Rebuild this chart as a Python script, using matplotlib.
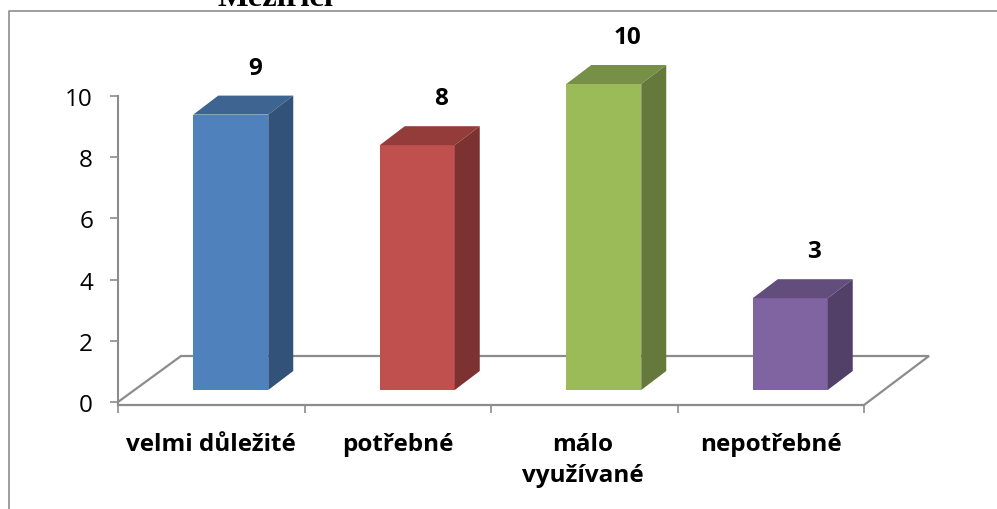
import matplotlib
matplotlib.use("Agg")
import matplotlib.pyplot as plt
from matplotlib.patches import Polygon

categories = ["velmi důležité", "potřebné", "málo\nvyužívané", "nepotřebné"]
values = [9, 8, 10, 3]
y_ticks = [0, 2, 4, 6, 8, 10]

front_colors = ["#4f81bd", "#c0504d", "#9bbb59", "#8064a2"]
top_colors = ["#3e6491", "#943c3a", "#779047", "#624d7d"]
side_colors = ["#335279", "#7c3230", "#64793b", "#524068"]
grey = "#8c8c8c"

W, H = 997, 510
plt.rcParams["font.family"] = ["Open Sans", "DejaVu Sans"]

fig = plt.figure(figsize=(W / 100, H / 100), dpi=100)
# x axis runs 118-864 px, y axis 403-97 px
ax = fig.add_axes([118 / W, 1 - 403 / H, (864 - 118) / W, (403 - 97) / H])
ax.set_xlim(0, 4)
ax.set_ylim(0, 10)
ax.patch.set_visible(False)

px = 4 / (864 - 118)
py = 10 / (403 - 97)
depth_x = 25 * px
depth_y = 19 * py
bar_w = 75 * px
base = 12 * py

# floor of the 3d chart
floor_y = (403 - 357) * py
ax.plot([0, 63 * px, 811 * px, 4], [0, floor_y, floor_y, -3 * py], color=grey, lw=1.6,
        clip_on=False, zorder=1, solid_joinstyle="miter")

for i in range(len(values)):
    x0 = i + 0.5 - bar_w / 2 + 19.5 * px
    x1 = x0 + bar_w
    top = values[i] + base
    ax.bar(x0, values[i], width=bar_w, bottom=base, align="edge",
           color=front_colors[i], zorder=3, clip_on=False)
    ax.add_patch(Polygon([(x0, top), (x1, top), (x1 + depth_x, top + depth_y), (x0 + depth_x, top + depth_y)],
                         color=top_colors[i], lw=0, zorder=3, clip_on=False))
    ax.add_patch(Polygon([(x1, base), (x1 + depth_x, base + depth_y), (x1 + depth_x, top + depth_y), (x1, top)],
                         color=side_colors[i], lw=0, zorder=3, clip_on=False))
    ax.text(x0 + bar_w / 2 + 24 * px, top + depth_y + 28 * py, str(values[i]), ha="center", va="center",
            fontsize=17.5, fontweight="bold", color="black")

for s in ["top", "right"]:
    ax.spines[s].set_visible(False)
ax.spines["left"].set_color(grey)
ax.spines["left"].set_linewidth(1.5)
ax.spines["left"].set_bounds(-3 * py, 10)
ax.spines["bottom"].set_color(grey)
ax.spines["bottom"].set_linewidth(1.6)
ax.spines["bottom"].set_position(("outward", 3 * 0.72))

ax.set_yticks(y_ticks)
ax.tick_params(axis="y", length=6, width=1.2, color=grey, labelsize=17.5, pad=12)

ax.set_xticks(range(5))
ax.set_xticklabels([])
ax.tick_params(axis="x", length=5.8, width=1.2, color=grey, direction="out")

label_x = [211, 398, 583, 771]
for i in range(len(categories)):
    ax.text((label_x[i] - 118) * px, (403 - 433) * py, categories[i], ha="center", va="top",
            fontsize=17.5, fontweight="bold", color="black", linespacing=1.4)

# border of the pasted chart, and cut off heading above it
fig.add_artist(plt.Line2D([9 / W, 9 / W, 1], [0, 1 - 12 / H, 1 - 12 / H], color=grey, lw=1.2))
fig.text(275 / W, 1 - 6 / H, "Meziříčí", ha="center", va="baseline", fontsize=23.4,
         fontweight="bold", family="Liberation Serif")

fig.savefig("out.png", dpi=100)
